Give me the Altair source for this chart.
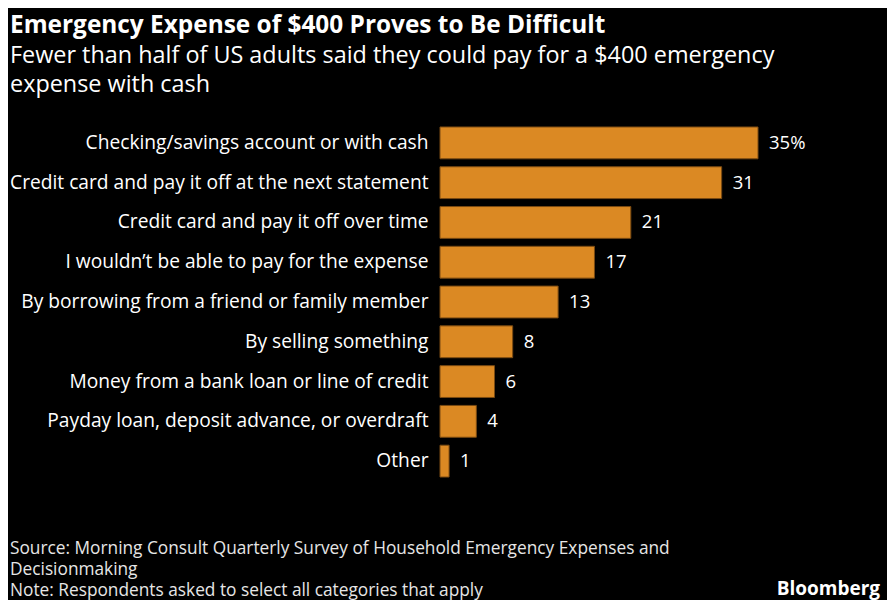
import altair as alt
import pandas as pd

categories = [
    "Checking/savings account or with cash",
    "Credit card and pay it off at the next statement",
    "Credit card and pay it off over time",
    "I wouldn\u2019t be able to pay for the expense",
    "By borrowing from a friend or family member",
    "By selling something",
    "Money from a bank loan or line of credit",
    "Payday loan, deposit advance, or overdraft",
    "Other",
]
values = [35, 31, 21, 17, 13, 8, 6, 4, 1]
value_labels = ["35%", "31", "21", "17", "13", "8", "6", "4", "1"]

footer_lines = [
    "Source: Morning Consult Quarterly Survey of Household Emergency Expenses and",
    "Decisionmaking",
    "Note: Respondents asked to select all categories that apply",
]

df = pd.DataFrame({"category": categories, "value": values, "label": value_labels})

FONT = "Open Sans"
BAR = "#DB8923"

y_enc = alt.Y(
    "category:N",
    sort=categories,
    scale=alt.Scale(paddingInner=0.2, paddingOuter=0.1),
    axis=alt.Axis(
        title=None, ticks=False, domain=False, labelPadding=12,
        labelFontSize=19.2, labelFont=FONT, labelColor="#ffffff", labelLimit=500,
    ),
)
x_enc = alt.X(
    "value:Q",
    scale=alt.Scale(domain=[0, 35], nice=False),
    axis=None,
)

bars = alt.Chart(df).mark_bar(color=BAR, stroke="#7a4a12", strokeWidth=1).encode(
    x=x_enc, y=y_enc
)
texts = alt.Chart(df).mark_text(
    align="left", dx=11, fontSize=18.5, font=FONT, color="#ffffff"
).encode(x=x_enc, y=y_enc, text="label:N")

footer_layers = []
for i, line in enumerate(footer_lines):
    footer_layers.append(
        alt.Chart(pd.DataFrame({"t": [line]})).mark_text(
            align="left", baseline="alphabetic", fontSize=17.3, font=FONT, color="#e6e6e6"
        ).encode(x=alt.value(-430), y=alt.value(431 + 21 * i), text="t:N")
    )

logo = alt.Chart(pd.DataFrame({"t": ["Bloomberg"]})).mark_text(
    align="right", baseline="alphabetic", fontSize=19, font=FONT,
    fontWeight="bold", color="#ffffff"
).encode(x=alt.value(440), y=alt.value(472), text="t:N")

chart = alt.layer(bars, texts, *footer_layers, logo).properties(
    width=318,
    height=358,
    padding={"left": 432, "top": 115, "right": 129, "bottom": 119},
    autosize=alt.AutoSizeParams(type="none"),
    background="#000000",
    title=alt.Title(
        "Emergency Expense of $400 Proves to Be Difficult",
        subtitle=["Fewer than half of US adults said they could pay for a $400 emergency", "expense with cash"],
        anchor="start", frame="group", dx=-430, offset=26,
        font=FONT, fontSize=24.4, fontWeight="bold", color="#ffffff",
        subtitleFont=FONT, subtitleFontSize=23.4, subtitleColor="#ffffff",
        subtitleLineHeight=29, subtitlePadding=6,
    ),
).configure_view(stroke=None)

chart.save("out.html", embed_options={"renderer": "svg", "actions": False})
